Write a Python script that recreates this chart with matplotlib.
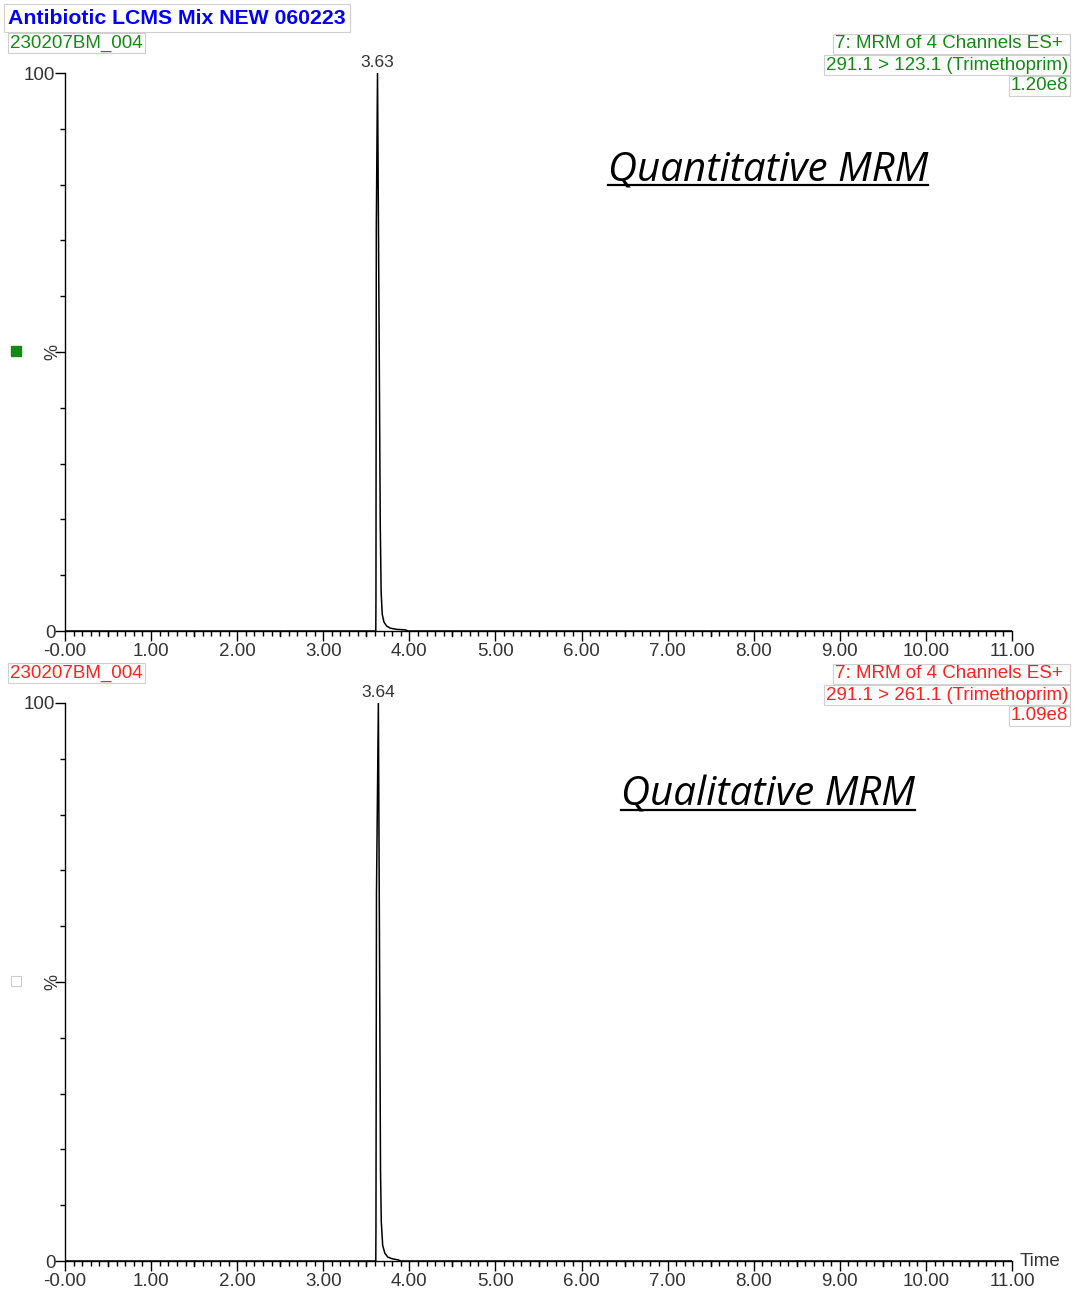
import numpy as np
import matplotlib.pyplot as plt
from matplotlib.lines import Line2D
from matplotlib.patches import Rectangle

plt.rcParams["font.family"] = ["Liberation Sans", "DejaVu Sans"]

W, H = 1077, 1292

# chromatogram traces (retention time in min, relative intensity in %)
time_quant = [0.00, 3.610, 3.612, 3.616, 3.630, 3.648, 3.662, 3.672, 3.685, 3.705, 3.735, 3.780, 3.850, 3.950, 3.990, 11.00]
pct_quant = [0, 0, 6, 72, 100, 55, 19, 7, 3.0, 1.6, 0.9, 0.5, 0.3, 0.2, 0, 0]

time_qual = [0.00, 3.610, 3.612, 3.618, 3.640, 3.655, 3.665, 3.674, 3.690, 3.715, 3.750, 3.800, 3.870, 3.900, 11.00]
pct_qual = [0, 0, 6, 66, 100, 50, 16, 7, 2.8, 1.4, 0.7, 0.4, 0.2, 0, 0]

peaks = [3.63, 3.64]
sample = "230207BM_004"
header = ["7: MRM of 4 Channels ES+", "7: MRM of 4 Channels ES+"]
transitions = ["291.1 > 123.1 (Trimethoprim)", "291.1 > 261.1 (Trimethoprim)"]
scales = ["1.20e8", "1.09e8"]
notes = ["Quantitative MRM", "Qualitative MRM"]
colors = ["#138a13", "#ff2020"]

x_ticks = np.arange(0, 12)
x_labels = ["-0.00"] + ["%.2f" % v for v in x_ticks[1:]]


def fx(x):
    return x / W


def fy(y):
    return 1 - y / H


fig = plt.figure(figsize=(W / 100, H / 100), dpi=100)
box = dict(boxstyle="square,pad=0.1", fc="white", ec="#cfcfcf", lw=0.8)
fs = 13.5

fig.text(fx(8), fy(18), "Antibiotic LCMS Mix NEW 060223", color="#0000ff",
         fontsize=15.3, fontweight="bold", va="center", ha="left",
         bbox=dict(boxstyle="square,pad=0.2", fc="white", ec="#cfcfcf", lw=0.8))

panels = [
    (time_quant, pct_quant, 73, 631),
    (time_qual, pct_qual, 703, 1261),
]

note_y = [170, 795]
for i, (t, p, top, bot) in enumerate(panels):
    ax = fig.add_axes([fx(65), fy(bot), fx(1012) - fx(65), (bot - top) / H])
    ax.plot(t, p, color="black", lw=1.1)
    ax.set_xlim(0, 11)
    ax.set_ylim(0, 100)
    for s in ["top", "right"]:
        ax.spines[s].set_visible(False)
    ax.spines["left"].set_linewidth(1.0)
    ax.spines["bottom"].set_linewidth(1.0)

    ax.set_xticks(x_ticks)
    ax.set_xticklabels(x_labels, fontsize=fs, color="#333333")
    ax.set_xticks(np.arange(0, 11.01, 0.1), minor=True)
    ax.tick_params(axis="x", which="major", length=7, width=1, pad=1.5)
    ax.tick_params(axis="x", which="minor", length=3.5, width=1)

    ax.set_yticks([0, 50, 100])
    ax.set_yticklabels(["0", "", "100"], fontsize=fs, color="#333333")
    ax.set_yticks(np.arange(0, 101, 10), minor=True)
    ax.tick_params(axis="y", which="major", length=7, width=1, pad=0)
    ax.tick_params(axis="y", which="minor", length=3.5, width=1)
    ax.text(-0.004, 0.5, "%", transform=ax.transAxes, rotation=90,
            fontsize=13, color="#333333", ha="right", va="center")

    ax.annotate("%.2f" % peaks[i], xy=(peaks[i], 100), xytext=(0, 2),
                textcoords="offset points", ha="center", va="bottom",
                fontsize=12.5, color="#333333", annotation_clip=False)

    # half-ticks at x.5
    for xv in np.arange(0.5, 11, 1.0):
        ax.plot([xv, xv], [0, -0.9], color="black", lw=1, clip_on=False)

    c = colors[i]
    y0 = top - 30
    fig.text(fx(10), fy(y0), sample, color=c, fontsize=fs,
             ha="left", va="center", bbox=box)
    fig.text(fx(1068), fy(y0 + 1), header[i] + " ", color=c, fontsize=fs,
             ha="right", va="center", bbox=box)
    fig.text(fx(1068), fy(y0 + 22), transitions[i], color=c, fontsize=fs,
             ha="right", va="center", bbox=box)
    fig.text(fx(1068), fy(y0 + 43), scales[i], color=c, fontsize=fs,
             ha="right", va="center", bbox=box)

fig.text(fx(1020), fy(1261), "Time", fontsize=fs, color="#333333",
         ha="left", va="center")

fig.patches.append(Rectangle((fx(11), fy(356)), 10 / W, 10 / H, fc="#138a13",
                             ec="#138a13", transform=fig.transFigure))
fig.patches.append(Rectangle((fx(11), fy(986)), 10 / W, 10 / H, fc="white",
                             ec="#cccccc", lw=0.8, transform=fig.transFigure))

note_texts = []
for i, yy in enumerate(note_y):
    note_texts.append(fig.text(fx(768), fy(yy), notes[i], fontsize=29,
                               style="italic", family="Open Sans",
                               ha="center", va="center", color="black"))

fig.canvas.draw()
r = fig.canvas.get_renderer()
for tx in note_texts:
    bb = tx.get_window_extent(r).transformed(fig.transFigure.inverted())
    fig.add_artist(Line2D([bb.x0, bb.x1], [bb.y0 + 0.004, bb.y0 + 0.004],
                          color="black", lw=1.6, transform=fig.transFigure))

fig.savefig("out.png", dpi=100, facecolor="white")
